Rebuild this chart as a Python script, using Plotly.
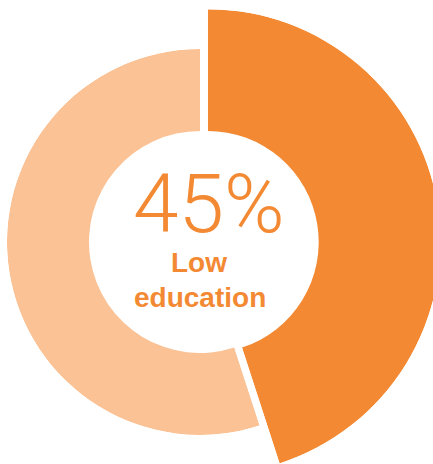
import math
import plotly.graph_objects as go

# ---- data ----
categories = ["Low education", "Other"]
shares = [45, 55]          # percent
headline_value = shares[0]
label_lines = ["Low", "education"]

# ---- style ----
W, H = 441, 464            # slightly wider than the 433px view: the big slice is cropped at the right
DARK = "#F38A33"
LIGHT = "#FAC295"
TEXT = "#F38A33"

# angular geometry derived from data (clockwise from 12 o'clock)
total = sum(shares)
spans = [s / total * 360 for s in shares]
starts = [0, spans[0]]
centers = [starts[i] + spans[i] / 2 for i in range(2)]


def sector_for(start, span):
    return [90 - (start + span), 90 - start]


def sector_bbox(sector):
    s0, s1 = sector
    arc = s1 - s0
    a0 = s0 % 360
    a1 = a0 + arc
    ax0, ay0 = math.cos(math.radians(a0)), math.sin(math.radians(a0))
    ax1, ay1 = math.cos(math.radians(a1)), math.sin(math.radians(a1))
    if (a0 <= 90 and a1 >= 90) or (a0 > 90 and a1 >= 450):
        y1 = 1
    elif ay0 <= 0 and ay1 <= 0:
        y1 = 0
    else:
        y1 = max(ay0, ay1)
    if (a0 <= 180 and a1 >= 180) or (a0 > 180 and a1 >= 540):
        x0 = -1
    elif ax0 >= 0 and ax1 >= 0:
        x0 = 0
    else:
        x0 = min(ax0, ax1)
    if (a0 <= 270 and a1 >= 270) or (a0 > 270 and a1 >= 630):
        y0 = -1
    elif ay0 >= 0 and ay1 >= 0:
        y0 = 0
    else:
        y0 = min(ay0, ay1)
    if a1 >= 360:
        x1 = 1
    elif ax0 <= 0 and ax1 <= 0:
        x1 = 0
    else:
        x1 = max(ax0, ax1)
    return x0, y0, x1, y1


def domain(cx, cy, r, sector):
    x0, y0, x1, y1 = sector_bbox(sector)
    left, right = cx + x0 * r, cx + x1 * r
    top, bottom = cy - y1 * r, cy - y0 * r
    clamp = lambda v: min(1.0, max(0.0, v))
    return dict(x=[clamp(left / W), clamp(right / W)],
                y=[clamp((H - bottom) / H), clamp((H - top) / H)])


HOLE = 111
L_CX, L_CY, L_R = 200.0, 242, 193
D_CX, D_CY, D_R = 207.7, 242, 232.8

sec_dark = sector_for(starts[0], spans[0])
sec_light = sector_for(starts[1], spans[1])

fig = go.Figure()
fig.add_trace(go.Barpolar(
    r=[L_R - HOLE], theta=[centers[1]], width=[spans[1]], base=HOLE,
    marker=dict(color=LIGHT, line=dict(width=0)), subplot="polar",
    hoverinfo="skip", showlegend=False, name=categories[1]))
fig.add_trace(go.Barpolar(
    r=[D_R - HOLE], theta=[centers[0]], width=[spans[0]], base=HOLE,
    marker=dict(color=DARK, line=dict(width=0)), subplot="polar2",
    hoverinfo="skip", showlegend=False, name=categories[0]))

ang = dict(visible=False, rotation=90, direction="clockwise")
fig.update_layout(
    width=W, height=H, margin=dict(l=0, r=0, t=0, b=0),
    paper_bgcolor="white", plot_bgcolor="white",
    polar=dict(domain=domain(L_CX, L_CY, L_R, sec_light), sector=sec_light,
               bgcolor="rgba(0,0,0,0)",
               radialaxis=dict(visible=False, range=[0, L_R]),
               angularaxis=ang),
    polar2=dict(domain=domain(D_CX, D_CY, D_R, sec_dark), sector=sec_dark,
                bgcolor="rgba(0,0,0,0)",
                radialaxis=dict(visible=False, range=[0, D_R]),
                angularaxis=ang),
    annotations=[
        dict(text=f"{headline_value}%", x=209 / W, y=(H - 203.5) / H,
             xref="paper", yref="paper", showarrow=False,
             xanchor="center", yanchor="middle",
             font=dict(family="Roboto", size=82, color=TEXT, weight=300)),
        dict(text=label_lines[0], x=198.5 / W, y=(H - 262.3) / H,
             xref="paper", yref="paper", showarrow=False,
             xanchor="center", yanchor="middle",
             font=dict(family="Liberation Sans, Arial", size=28, color=TEXT, weight="bold")),
        dict(text=label_lines[1], x=199.5 / W, y=(H - 297) / H,
             xref="paper", yref="paper", showarrow=False,
             xanchor="center", yanchor="middle",
             font=dict(family="Liberation Sans, Arial", size=28, color=TEXT, weight="bold")),
    ],
)

fig.write_html(
    "out.html",
    config={"displayModeBar": False, "staticPlot": True},
    post_script=("document.documentElement.style.overflow='hidden';"
                 "document.body.style.margin='0';"
                 "document.body.style.overflow='hidden';"),
)
